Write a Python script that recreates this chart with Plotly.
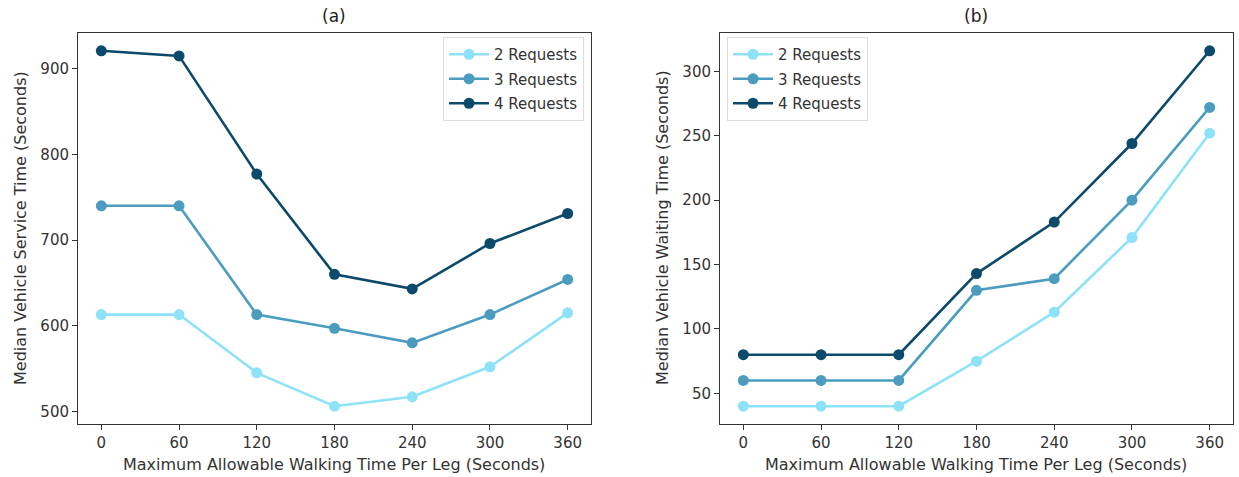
import plotly.graph_objects as go

walk = [0, 60, 120, 180, 240, 300, 360]
series_names = ["2 Requests", "3 Requests", "4 Requests"]
service_2 = [613, 613, 545, 506, 517, 552, 615]
service_3 = [740, 740, 613, 597, 580, 613, 654]
service_4 = [921, 915, 777, 660, 643, 696, 731]
wait_2 = [40, 40, 40, 75, 113, 171, 252]
wait_3 = [60, 60, 60, 130, 139, 200, 272]
wait_4 = [80, 80, 80, 143, 183, 244, 316]
colors = ["#8ee2f8", "#4b9cbf", "#0c4a6b"]

W, H = 1239, 477
FONT = "DejaVu Sans"

fig = go.Figure()
for name, vals, c in zip(series_names, [service_2, service_3, service_4], colors):
    fig.add_trace(go.Scatter(x=walk, y=vals, name=name, mode="lines+markers",
                             line=dict(color=c, width=2.6), marker=dict(color=c, size=11),
                             xaxis="x", yaxis="y", legend="legend", legendgroup="a" + name))
for name, vals, c in zip(series_names, [wait_2, wait_3, wait_4], colors):
    fig.add_trace(go.Scatter(x=walk, y=vals, name=name, mode="lines+markers",
                             line=dict(color=c, width=2.6), marker=dict(color=c, size=11),
                             xaxis="x2", yaxis="y2", legend="legend2", legendgroup="b" + name))

def px(x):
    return x / W

def py(y):
    return 1 - y / H

axis_common = dict(showgrid=False, zeroline=False, showline=True, linecolor="#333333",
                   linewidth=1, mirror=True, ticks="outside", ticklen=5, tickcolor="#333333",
                   tickfont=dict(family=FONT, size=15, color="#333333"))

fig.update_layout(
    width=W, height=H,
    margin=dict(l=0, r=0, t=0, b=0),
    paper_bgcolor="white", plot_bgcolor="white",
    showlegend=True,
    xaxis=dict(domain=[px(78), px(591)], range=[-18, 378], tickvals=walk, anchor="y", **axis_common),
    yaxis=dict(domain=[py(424), py(33)], range=[485.25, 941.75], tickvals=[500, 600, 700, 800, 900],
               anchor="x", **axis_common),
    xaxis2=dict(domain=[px(720), px(1233)], range=[-18, 378], tickvals=walk, anchor="y2", **axis_common),
    yaxis2=dict(domain=[py(424), py(33)], range=[26.2, 329.8], tickvals=[50, 100, 150, 200, 250, 300],
                anchor="x2", **axis_common),
    legend=dict(x=px(584), y=py(37), xanchor="right", yanchor="top",
                bgcolor="rgba(255,255,255,0.8)", bordercolor="#dddddd", borderwidth=1,
                font=dict(family=FONT, size=15, color="#333333"), tracegroupgap=2,
                traceorder="grouped", itemwidth=40),
    legend2=dict(x=px(727), y=py(37), xanchor="left", yanchor="top",
                 bgcolor="rgba(255,255,255,0.8)", bordercolor="#dddddd", borderwidth=1,
                 font=dict(family=FONT, size=15, color="#333333"), tracegroupgap=2,
                 traceorder="grouped", itemwidth=40),
)

def ann(text, x, y, size=16, angle=0, color="#333333"):
    return dict(text=text, x=px(x), y=py(y), xref="paper", yref="paper", showarrow=False,
                xanchor="center", yanchor="middle", textangle=angle,
                font=dict(family=FONT, size=size, color=color))

annotations = [
    ann("(a)", 334, 16, size=17, color="#222222"),
    ann("(b)", 976, 16, size=17, color="#222222"),
    ann("Maximum Allowable Walking Time Per Leg (Seconds)", 334, 464),
    ann("Maximum Allowable Walking Time Per Leg (Seconds)", 976, 464),
    ann("Median Vehicle Service Time (Seconds)", 20, 228, angle=-90),
    ann("Median Vehicle Waiting Time (Seconds)", 662, 228, angle=-90),
]
fig.update_layout(annotations=annotations)

fig.write_html("out.html", config={"displayModeBar": False},
               post_script="document.body.style.margin='0';document.body.style.overflow='hidden';")
